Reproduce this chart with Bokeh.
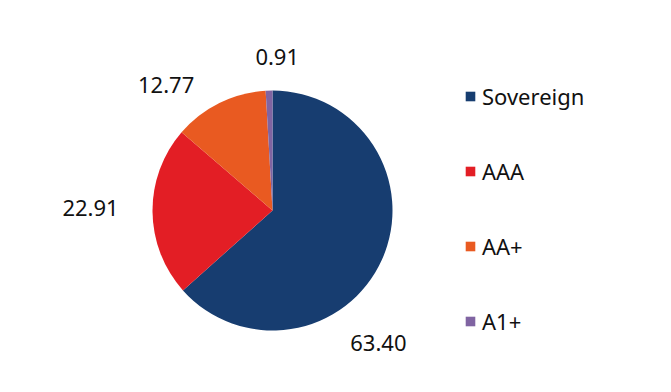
import math
from bokeh.plotting import figure
from bokeh.models import ColumnDataSource, Range1d, Legend, LegendItem
from bokeh.core.properties import value
from bokeh.embed import file_html
from bokeh.resources import INLINE

categories = ["Sovereign", "AAA", "AA+", "A1+"]
values = [63.40, 22.91, 12.77, 0.91]
labels = ["63.40", "22.91", "12.77", "0.91"]
colors = ["#173D70", "#E31E25", "#E95A21", "#8064A2"]

# label nudges (screen px) relative to mid-angle anchor
label_dx = [-31, -32, -40, 9]
label_dy = [-71, 4, -9, 4]

W, H = 655, 376
CX, CY, R = 272, 166, 120
LABEL_R = 150

total = sum(values)
starts, ends, lx, ly = [], [], [], []
cum = 0.0
for v, dx, dy in zip(values, label_dx, label_dy):
    a0 = math.pi / 2 - cum / total * 2 * math.pi
    cum += v
    a1 = math.pi / 2 - cum / total * 2 * math.pi
    starts.append(a0)
    ends.append(a1)
    mid = (a0 + a1) / 2
    lx.append(CX + LABEL_R * math.cos(mid) + dx)
    ly.append(CY + LABEL_R * math.sin(mid) + dy)

src = ColumnDataSource(dict(cat=categories, val=values, start=starts, end=ends,
                            color=colors, lab=labels, lx=lx, ly=ly,
                            x=[CX] * 4, y=[CY] * 4))

p = figure(width=W, height=H, output_backend="svg", toolbar_location=None,
           x_range=Range1d(0, W), y_range=Range1d(0, H), min_border=0)
p.axis.visible = False
p.grid.visible = False
p.outline_line_color = None
p.background_fill_color = "white"

r = p.wedge(x="x", y="y", radius=R, radius_units="screen", start_angle="start",
            end_angle="end", direction="clock", fill_color="color",
            line_color=None, source=src)

p.text(x="lx", y="ly", text="lab", source=src, text_align="center",
       text_baseline="middle", text_font=value("Noto Sans"),
       text_font_size="22px", text_color="#111111")

items = [LegendItem(label=c, renderers=[r], index=i) for i, c in enumerate(categories)]
legend = Legend(items=items, location=(464, 40), orientation="vertical",
                glyph_width=12, glyph_height=12, label_height=26,
                label_standoff=6, spacing=45, padding=0, margin=0,
                label_text_font="Noto Sans", label_text_font_size="22px",
                label_text_color="#111111", border_line_color=None,
                background_fill_alpha=0)
p.add_layout(legend)

open("out.html", "w").write(file_html(p, INLINE))
